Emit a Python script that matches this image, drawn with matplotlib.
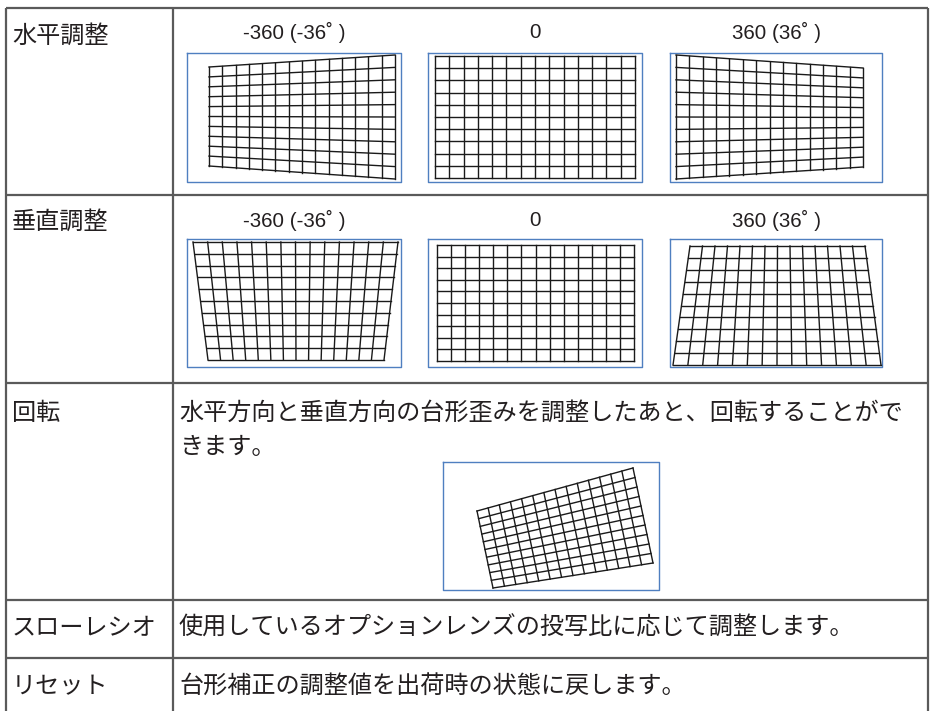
import matplotlib
matplotlib.use('Agg')
import matplotlib.pyplot as plt
import numpy as np

# ---------------- data ----------------
row_labels = ['水平調整', '垂直調整', '回転', 'スローレシオ', 'リセット']
header_labels = ['-360 (-36˚ )', '0', '360 (36˚ )']
rotate_text = ['水平方向と垂直方向の台形歪みを調整したあと、回転することがで', 'きます。']
desc_throw = '使用しているオプションレンズの投写比に応じて調整します。'
desc_reset = '台形補正の調整値を出荷時の状態に戻します。'
n_cols = 14
n_rows = 10

# keystone grid corners (TL, TR, BR, BL)
h_minus = [(209, 67), (395, 55), (395, 179), (209, 166)]
h_zero = [(435, 56), (635, 56), (635, 178), (435, 178)]
h_plus = [(676, 55), (863, 68), (863, 167), (676, 179)]
v_minus = [(193, 242), (398, 242), (384, 360), (208, 360)]
v_zero = [(437, 245), (634, 245), (634, 361), (437, 361)]
v_plus = [(690, 246), (865, 246), (881, 365), (673, 365)]
rot = [(477, 511), (633, 468), (653, 563), (493, 588)]

# ---------------- figure ----------------
W, H = 933, 711
fig = plt.figure(figsize=(W / 100, H / 100), dpi=100)
ax = fig.add_axes([0, 0, 1, 1])
ax.set_xlim(0, W)
ax.set_ylim(H, 0)
ax.axis('off')

JP = ['Noto Sans CJK JP', 'DejaVu Sans']
LAT = ['Liberation Sans', 'Noto Sans CJK JP', 'DejaVu Sans']
TXT = '#231f20'
fs_jp = 17.4
fs_hdr = 14.8

# table lines
tc = '#5a5a5a'
tlw = 1.6
xl, xc, xr = 6, 173, 928
row_y = [8, 195, 383, 600, 658]
for y in row_y:
    ax.plot([xl, xr], [y, y], color=tc, lw=tlw, solid_capstyle='butt')
for x in (xl, xc, xr):
    ax.plot([x, x], [8, H], color=tc, lw=tlw, solid_capstyle='butt')

# frames
blue = '#4f7fc0'
def frame(x0, y0, x1, y1):
    ax.plot([x0, x1, x1, x0, x0], [y0, y0, y1, y1, y0], color=blue, lw=1.0)

def quad_grid(q):
    tl, tr, br, bl = [np.array(p, float) for p in q]
    for i in range(n_cols + 1):
        t = i / n_cols
        a = tl + (tr - tl) * t
        b = bl + (br - bl) * t
        ax.plot([a[0], b[0]], [a[1], b[1]], color='#1a1a1a', lw=1.0)
    for j in range(n_rows + 1):
        t = j / n_rows
        a = tl + (bl - tl) * t
        b = tr + (br - tr) * t
        ax.plot([a[0], b[0]], [a[1], b[1]], color='#1a1a1a', lw=1.0)

boxes_x = [(187, 401), (428, 642), (670, 882)]
row1 = [h_minus, h_zero, h_plus]
row2 = [v_minus, v_zero, v_plus]
for (x0, x1), q in zip(boxes_x, row1):
    frame(x0, 53, x1, 182)
    quad_grid(q)
for (x0, x1), q in zip(boxes_x, row2):
    frame(x0, 239, x1, 367)
    quad_grid(q)
frame(443, 462, 659, 590)
quad_grid(rot)

# headers
for (x0, x1), lab in zip(boxes_x, header_labels):
    ax.text((x0 + x1) / 2, 32, lab, family=LAT, fontsize=fs_hdr, color=TXT,
            ha='center', va='center')
    ax.text((x0 + x1) / 2, 220, lab, family=LAT, fontsize=fs_hdr, color=TXT,
            ha='center', va='center')

# row labels
label_y = [36, 222, 413, 628, 686]
for lab, y in zip(row_labels, label_y):
    ax.text(12, y, lab, family=JP, fontsize=fs_jp, color=TXT, ha='left', va='center')

ax.text(179, 413, rotate_text[0], family=JP, fontsize=fs_jp, color=TXT, ha='left', va='center')
ax.text(179, 447, rotate_text[1], family=JP, fontsize=fs_jp, color=TXT, ha='left', va='center')
ax.text(179, 628, desc_throw, family=JP, fontsize=fs_jp, color=TXT, ha='left', va='center')
ax.text(179, 686, desc_reset, family=JP, fontsize=fs_jp, color=TXT, ha='left', va='center')

fig.savefig('out.png', dpi=100)
